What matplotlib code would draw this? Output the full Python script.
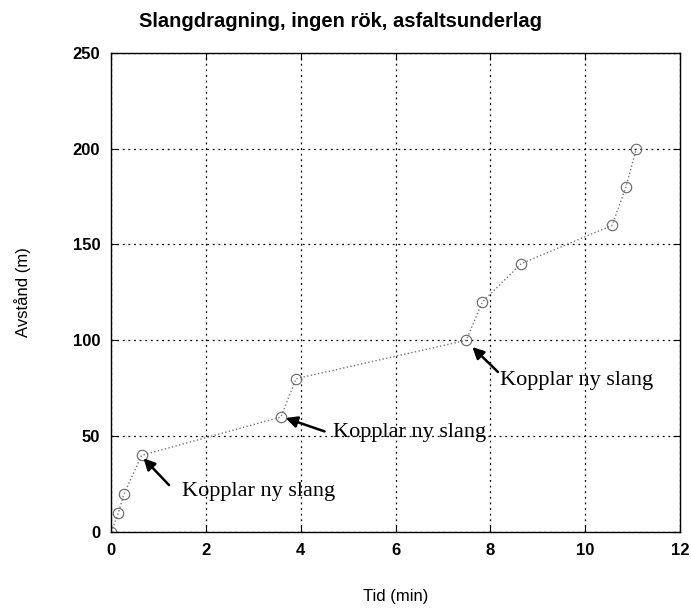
import matplotlib
matplotlib.use("Agg")
import matplotlib.pyplot as plt

# Tid (min) och avstånd (m) för slangdragningen
tid = [0.0, 0.15, 0.27, 0.64, 3.58, 3.9, 7.49, 7.83, 8.65, 10.57, 10.86, 11.08]
avstand = [0, 10, 20, 40, 60, 80, 100, 120, 140, 160, 180, 200]

xticks = [0, 2, 4, 6, 8, 10, 12]
yticks = [0, 50, 100, 150, 200, 250]

# Anteckningar: (text, pilspets, pilens start, textposition)
notes = [
    ("Kopplar ny slang", (0.68, 38.5), (1.22, 24.5), (1.5, 21)),
    ("Kopplar ny slang", (3.68, 59.5), (4.5, 52.5), (4.68, 51.7)),
    ("Kopplar ny slang", (7.62, 96.5), (8.16, 83.5), (8.2, 79)),
]

fig = plt.figure(figsize=(6.91, 6.13), dpi=100)
ax = fig.add_axes([0.161, 0.132, 0.823, 0.782])

ax.plot(tid, avstand, linestyle=":", color="#777777", linewidth=1.0,
        marker="o", markersize=7.5, markerfacecolor="none",
        markeredgecolor="#666666", markeredgewidth=0.8)

ax.set_xlim(0, 12)
ax.set_ylim(0, 250)
ax.set_xticks(xticks)
ax.set_yticks(yticks)
ax.grid(True, linestyle=(0, (1.5, 3)), color="black", linewidth=0.9)
ax.tick_params(direction="in", top=True, right=True, length=5, pad=8)
for lbl in ax.get_xticklabels() + ax.get_yticklabels():
    lbl.set_fontfamily("Liberation Sans")
    lbl.set_fontsize(12)
    lbl.set_fontweight("bold")
for s in ax.spines.values():
    s.set_linewidth(1.0)

ax.set_xlabel("Tid (min)", family="Liberation Sans", fontsize=12, labelpad=22)
ax.set_ylabel("Avstånd (m)", family="Liberation Sans", fontsize=12, labelpad=30)
fig.text(0.493, 0.965, "Slangdragning, ingen rök, asfaltsunderlag",
         family="Liberation Sans", fontsize=14.5, fontweight="bold",
         ha="center", va="center")

for text, head, tail, pos in notes:
    ax.annotate("", xy=head, xytext=tail,
                arrowprops=dict(arrowstyle="-|>", color="black", lw=1.8,
                                mutation_scale=17, shrinkA=0, shrinkB=0))
    ax.text(pos[0], pos[1], text, family="Liberation Serif", fontsize=16,
            ha="left", va="center")

fig.savefig("out.png", dpi=100)
